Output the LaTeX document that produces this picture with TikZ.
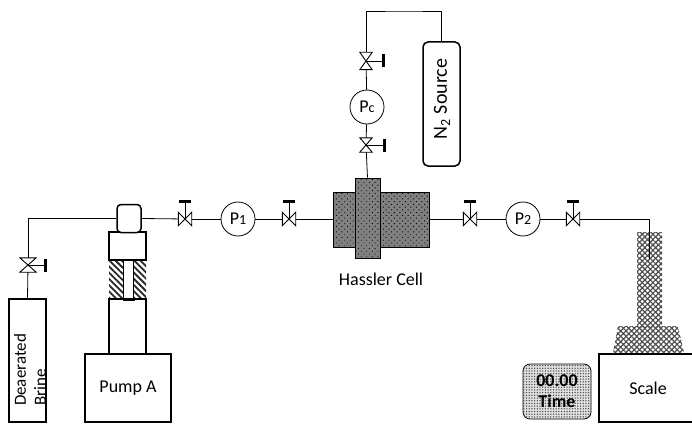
\documentclass[tikz,border=0pt]{standalone}
\usepackage{fontspec}
\setmainfont{Carlito}
\usetikzlibrary{positioning, patterns.meta}
\newcommand{\lowtxt}[1]{{\fontsize{14}{14}\selectfont #1}}
\tikzset{
  pipe/.style={line width=0.8pt},
  labeltxt/.style={font=\fontsize{18}{20}\selectfont},
  box/.style={draw, line width=1.5pt, inner sep=0pt, labeltxt},
  gauge/.style={draw, circle, line width=0.8pt, minimum size=34pt, inner sep=0pt, fill=white, labeltxt},
  valve/.style={inner sep=0pt, minimum width=#1},
  valve/.default=13pt,
  bowtie/.style={line width=0.9pt, line join=miter},
  handle/.style={line width=3pt},
  cellfill/.style={draw, line width=0.6pt, fill=black!50, postaction={pattern={Dots[angle=45, distance=3.9pt, radius=0.65pt]}, pattern color=black}},
  grainfill/.style={pattern={Lines[angle=45, distance=3.8pt, line width=1.2pt]}, pattern color=black!70, postaction={pattern={Lines[angle=-45, distance=3.8pt, line width=1.2pt]}, pattern color=black!70}},
  hatchfill/.style={pattern={Lines[angle=-45, distance=4.4pt, line width=1.8pt]}, pattern color=black!85},
  timerfill/.style={fill=black!12, postaction={pattern={Dots[distance=2.7pt, radius=0.75pt]}, pattern color=black!70}},
}

\begin{document}
\begin{tikzpicture}[x=1pt, y=-1pt]
\clip (0,0) rectangle (692,425);

% Brine and pump
\node[box, minimum width=37pt, minimum height=123pt] (brine) at (27.5,360.5) {};
\node[rotate=90, font=\fontsize{17}{20}\selectfont, align=left] (brinetxt) at (30,370) {Deaerated\\Brine};
\node[box, minimum width=86pt, minimum height=68pt] (pump) at (128,388) {Pump A};
\node[hatchfill, minimum width=37pt, minimum height=39pt, inner sep=0pt] (hatch) at (127.5,279.5) {};
\node[draw, line width=0.6pt, fill=white, minimum width=10pt, minimum height=39pt, inner sep=0pt] (plunger) at (128.5,279.5) {};
\node[box, minimum width=37pt, minimum height=55pt] (barrel) at (127.5,326.5) {};
\draw[handle] ([xshift=-6pt]plunger.south) -- ([xshift=6pt]plunger.south);
\node[box, minimum width=37pt, minimum height=28pt] (block) at (127.5,246) {};
\node[box, rounded corners=4pt, fill=white, minimum width=24pt, minimum height=28pt] (head) at (129,218.5) {};

% Hassler cell
\node[cellfill, minimum width=96pt, minimum height=55pt, inner sep=0pt] (cell) at (381,219.5) {};
\node[cellfill, minimum width=25pt, minimum height=80pt, inner sep=0pt] (core) at (367.5,218) {};
\node[labeltxt] (celltxt) at (381,279) {Hassler Cell};

% Gauges
\node[gauge] (p1) at (238,219) {P\lowtxt{1}};
\node[gauge] (p2) at (523,219) {P\lowtxt{2}};
\node[gauge] (pc) at (367,107) {P\lowtxt{c}};

% Valves with a handle on top
\foreach \name/\x in {v1/185, v2/289, v3/470, v4/573} {
  \node[valve, minimum height=13pt] (\name) at (\x,219) {};
  \draw[bowtie] (\name.north west) -- (\name.south east) -- (\name.north east) -- (\name.south west) -- cycle;
  \draw[pipe] (\name.center) -- ++(0,-18) coordinate (\name top);
  \draw[handle] ([xshift=-6pt]\name top) -- ([xshift=6pt]\name top);
}
% Valves with a handle on the right
\foreach \name/\x/\y/\w/\h/\l in {v0/28/265/16/14/17, v5/366/61/12/17/17, v6/366/145/12/14/18} {
  \node[valve=\w pt, minimum height=\h pt] (\name) at (\x,\y) {};
  \draw[bowtie] (\name.north west) -- (\name.south east) -- (\name.south west) -- (\name.north east) -- cycle;
  \draw[pipe] (\name.center) -- ++(\l,0) coordinate (\name hnd);
  \draw[handle] ([yshift=-6.5pt]\name hnd) -- ([yshift=6.5pt]\name hnd);
}

% Nitrogen source
\node[box, rounded corners=5pt, minimum width=37pt, minimum height=124pt] (n2) at (441.5,104) {};
\node[rotate=90, font=\fontsize{20}{22}\selectfont] (n2txt) at (442,99) {$\mathrm{N_2}$ Source};
\coordinate (topline) at (404,11);

% Collection on the scale
\node[box, minimum width=98pt, minimum height=68pt] (scale) at (648,388) {Scale};
\path[grainfill] (637,232) rectangle (662,327);
\path[grainfill] (618,326) -- (678,326) -- (684,353) -- (613,353) -- cycle;
\coordinate (dip) at (649,259);
\node[draw, line width=0.8pt, rounded corners=7pt, timerfill, minimum width=68pt, minimum height=55pt, inner sep=0pt, align=center, font=\fontsize{18}{21}\bfseries\selectfont] (timer) at (557,391.5) {00.00\\Time};

% Lines
\draw[pipe] (brine.north) -- (v0);
\draw[pipe] (v0) |- (head.west);
\draw[pipe] (head.east) -- (v1);
\draw[pipe] (v1) -- (p1);
\draw[pipe] (p1) -- (v2);
\draw[pipe] (v2) -- (cell.west |- v2);
\draw[pipe] (cell.east |- v3) -- (v3);
\draw[pipe] (v3) -- (p2);
\draw[pipe] (p2) -- (v4);
\draw[pipe] (v4) -| (dip);
\draw[pipe] (core.north) -- (v6);
\draw[pipe] (v6) -- (pc);
\draw[pipe] (pc) -- (v5);
\draw[pipe] (v5) |- (topline) -| (n2);
\end{tikzpicture}
\end{document}
